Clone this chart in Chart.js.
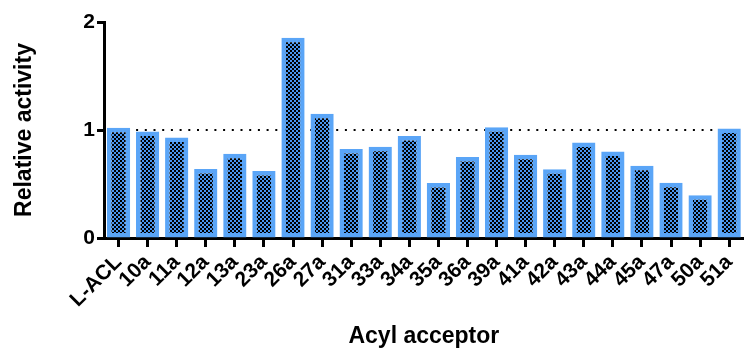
<!DOCTYPE html>
<html><head><meta charset="utf-8">
<script src="https://cdn.jsdelivr.net/npm/chart.js@4/dist/chart.umd.min.js"></script>
<style>html,body{margin:0;padding:0;background:#fff}#wrap{width:750px;height:352px;position:relative}</style>
</head><body><div id="wrap"><canvas id="c"></canvas></div>
<script>
const categories = ['L-ACL','10a','11a','12a','13a','23a','26a','27a','31a','33a','34a','35a','36a','39a','41a','42a','43a','44a','45a','47a','50a','51a'];
const relativeActivity = [1.02,0.985,0.93,0.64,0.78,0.62,1.855,1.15,0.825,0.845,0.945,0.51,0.75,1.025,0.77,0.637,0.885,0.8,0.668,0.512,0.395,1.015];
const yTicks = [0,1,2];
const referenceLevel = 1;
const yTitle = 'Relative activity';
const xTitle = 'Acyl acceptor';

const FONT = "'Liberation Sans', Arial, Helvetica, sans-serif";
const BLUE = '#5aa5f7';

function makePattern(){
  const p = document.createElement('canvas');
  p.width = 4; p.height = 4;
  const g = p.getContext('2d');
  g.fillStyle = '#4a96ee'; g.fillRect(0,0,4,4);
  g.fillStyle = '#000';
  g.fillRect(0,0,2,2); g.fillRect(2,2,2,2);
  return document.getElementById('c').getContext('2d').createPattern(p,'repeat');
}

const refLine = {
  id:'refLine',
  beforeDatasetsDraw(chart){
    const {ctx, chartArea, scales} = chart;
    const y = scales.y.getPixelForValue(referenceLevel);
    ctx.save();
    ctx.strokeStyle = '#000';
    ctx.lineWidth = 2.2;
    ctx.setLineDash([2,6.7]);
    ctx.beginPath();
    ctx.moveTo(chartArea.left+6, y);
    ctx.lineTo(chartArea.right-4, y);
    ctx.stroke();
    ctx.restore();
  }
};

new Chart(document.getElementById('c'), {
  type:'bar',
  data:{
    labels:categories,
    datasets:[{
      data:relativeActivity,
      backgroundColor:makePattern(),
      borderColor:BLUE,
      borderWidth:4.5,
      borderSkipped:false,
      barPercentage:0.8,
      categoryPercentage:1.0
    }]
  },
  options:{
    responsive:true,
    maintainAspectRatio:false,
    animation:false,
    devicePixelRatio:1,
    layout:{padding:{top:22,right:0,left:0,bottom:0}},
    plugins:{legend:{display:false},tooltip:{enabled:false}},
    scales:{
      x:{
        offset:true,
        grid:{drawOnChartArea:false,offset:false,drawTicks:true,tickLength:9,tickWidth:3,tickColor:'#000'},
        border:{display:true,width:3,color:'#000'},
        ticks:{autoSkip:false,maxRotation:45,minRotation:45,padding:3,color:'#000',font:{family:FONT,size:21,weight:'bold'}},
        title:{display:true,text:xTitle,color:'#000',font:{family:FONT,size:23,weight:'bold'},padding:{top:0,bottom:2}},
        afterFit(s){ s.height = 114; }
      },
      y:{
        min:0,max:2,
        afterBuildTicks(s){ s.ticks = yTicks.map(v=>({value:v})); },
        grid:{drawOnChartArea:false,drawTicks:true,tickLength:7,tickWidth:3,tickColor:'#000'},
        border:{display:true,width:3,color:'#000'},
        ticks:{padding:2,color:'#000',font:{family:FONT,size:21,weight:'bold'}},
        title:{display:true,text:yTitle,color:'#000',font:{family:FONT,size:23,weight:'bold'},padding:{top:11,bottom:0}},
        afterFit(s){ s.width = 104; }
      }
    }
  },
  plugins:[refLine]
});
</script>
</body></html>
